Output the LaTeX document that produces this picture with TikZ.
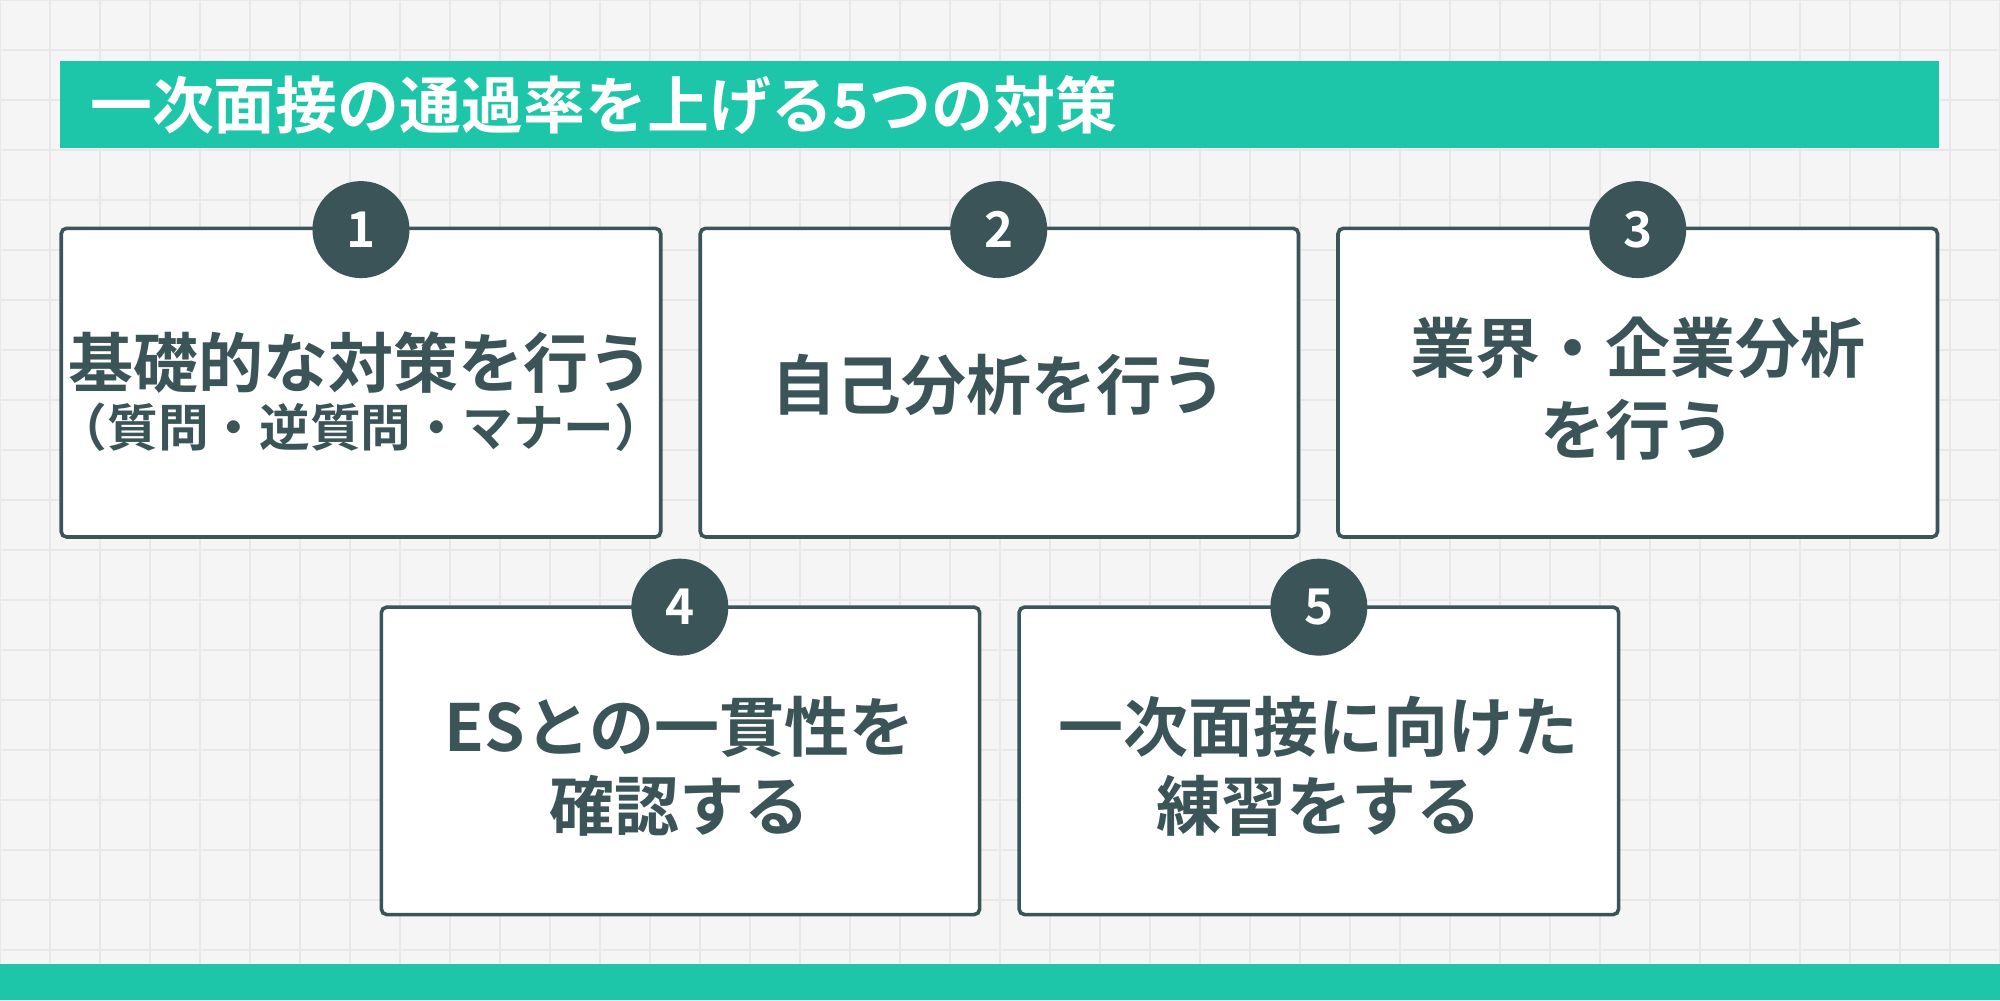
\documentclass[tikz,border=0pt]{standalone}
\usepackage{fontspec}
\newfontfamily\cjk{Noto Sans CJK JP Bold}
\definecolor{teal}{HTML}{1EC6A9}
\definecolor{dk}{HTML}{3B5457}
\definecolor{bg}{HTML}{F5F5F5}
\definecolor{gridc}{HTML}{E8E8E8}
\tikzset{
 card/.style={draw=dk,line width=0.8pt,fill=white,rounded corners=1.2pt},
 num/.style={circle,fill=dk,minimum size=0.76cm,inner sep=0pt,text=white,font=\cjk\fontsize{11}{11}\selectfont},
 big/.style={text=dk,font=\cjk\fontsize{14.5}{17}\selectfont,align=center,inner sep=0pt},
 sub/.style={text=dk,font=\cjk\fontsize{11.3}{12}\selectfont,inner sep=0pt}
}
\begin{document}
\begin{tikzpicture}[x=0.01cm,y=-0.01cm]
\fill[bg] (0,0) rectangle (1568,784);
\useasboundingbox (0,0) rectangle (1568,784);
\foreach \i in {0,...,40} {\draw[gridc,line width=0.3pt] (\i*39.2,0) -- (\i*39.2,784);}
\foreach \j in {0,...,20} {\draw[gridc,line width=0.3pt] (0,\j*39.2) -- (1568,\j*39.2);}
\fill[teal] (47,48) rectangle (1520,116);
\node[anchor=west,text=white,font=\cjk\fontsize{13.8}{14}\selectfont,inner sep=0pt] (title) at (70,82) {一次面接の通過率を上げる5つの対策};
\fill[teal] (0,756) rectangle (1568,784);
\draw[card] (48,179) rectangle (518,421);
\draw[card] (549,179) rectangle (1018,421);
\draw[card] (1049,179) rectangle (1519,421);
\draw[card] (299,476) rectangle (768,717);
\draw[card] (799,476) rectangle (1269,717);
\node[num] (n1) at (283,180) {1};
\node[num] (n2) at (783,180) {2};
\node[num] (n3) at (1284,180) {3};
\node[num] (n4) at (533,476) {4};
\node[num] (n5) at (1034,476) {5};
\node[big] (t1) at (283,284) {基礎的な対策を行う};
\node[sub] (s1) at (283,335) {（質問・逆質問・マナー）};
\node[big] (t2) at (783,302) {自己分析を行う};
\node[big] (t3a) at (1284,273) {業界・企業分析};
\node[big] (t3b) at (1284,337) {を行う};
\node[big] (t4a) at (533,570) {ESとの一貫性を};
\node[big] (t4b) at (533,632) {確認する};
\node[big] (t5a) at (1034,570) {一次面接に向けた};
\node[big] (t5b) at (1034,632) {練習をする};
\end{tikzpicture}
\end{document}
